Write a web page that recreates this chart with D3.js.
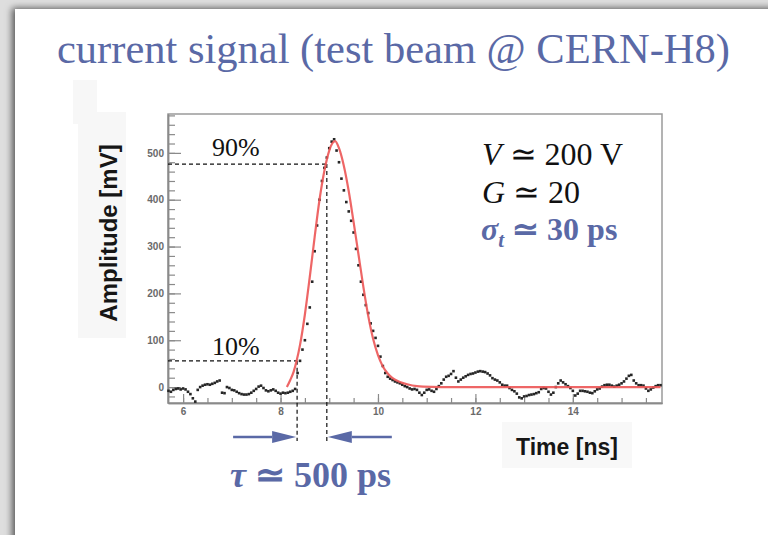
<!DOCTYPE html>
<html>
<head>
<meta charset="utf-8">
<script src="https://cdn.jsdelivr.net/npm/d3@7"></script>
<style>
  html, body { margin: 0; padding: 0; background: #fff; }
  svg { display: block; }
</style>
</head>
<body>
<div id="chart"></div>
<script>
// Oscilloscope samples (mV), one every 0.05 ns starting at 5.70 ns
const sampleStart = 5.70;
const sampleStep = 0.05;
const amplitude = [
  -8, -10, -6, -4, -3, -5, -3, -5, -10, -15,      // 5.70
  -24, -31, -6, 0, 3, 5, 6, 5, 7, 9,              // 6.20
  12, 14, -12, -13, 0, -2, -6, -7, -10, -13,      // 6.70
  -15, -16, -16, -15, -12, -8, -4, 1, 3, -2,      // 7.20
  -7, -9, -7, -5, -8, -12, -14, -12, -13, -12,    // 7.70
  -10, -8, -4, 30, 56, 80, 100, 135, 170, 225,    // 8.20
  290, 345, 400, 440, 468, 490, 510, 524, 529, 505, // 8.70
  480, 445, 420, 395, 375, 355, 330, 295, 260, 225, // 9.20
  197, 175, 158, 136, 120, 105, 88, 65, 45, 30,   // 9.70
  22, 18, 15, 12, 10, 8, 5, 2, 0, -3,             // 10.20
  -5, -4, -6, -12, -17, -12, -6, -5, -8, -10,     // 10.70
  -4, 2, 8, 16, 22, 24, 28, 34, 20, 12,           // 11.20
  16, 20, 23, 26, 28, 29, 31, 33, 34, 33,         // 11.70
  32, 29, 25, 19, 16, 14, 10, 5, 3, 3,            // 12.20
  -2, -6, -9, -14, -22, -24, -20, -19, -17, -16,  // 12.70
  -15, -13, -11, -4, -2, -3, -10, -16, -12, 0,    // 13.20
  8, 14, 10, 6, 2, -2, -8, -18, -14, -8,          // 13.70
  -8, -9, -10, -12, -13, -9, -5, -3, 1, 4,        // 14.20
  5, 5, 3, 1, 3, 5, 8, 12, 18, 24,                // 14.70
  26, 14, 8, 4, 4, 3, -3, -8, -5, -1,             // 15.20
  2, 4, 4                                         // 15.70
];

// Fit curve
const fitTime = [8.13, 8.20, 8.27, 8.33, 8.40, 8.50, 8.60, 8.70, 8.80, 8.90, 9.00, 9.06, 9.12,
  9.20, 9.30, 9.40, 9.50, 9.60, 9.70, 9.80, 9.90, 10.00, 10.10, 10.20, 10.30, 10.45, 10.60,
  10.80, 11.10, 11.50, 15.80];
const fitAmp = [0, 15, 33, 56, 90, 155, 235, 320, 400, 462, 505, 520, 525,
  510, 472, 418, 352, 283, 214, 152, 103, 68, 44, 29, 19, 11, 6,
  2, 0.5, 0, 0];

// Rise-time markers
const level10 = 56;
const level90 = 476;
const time10 = 8.34;
const time90 = 8.95;

const xMajorTicks = [6, 8, 10, 12, 14];
const yMajorTicks = [0, 100, 200, 300, 400, 500];

const width = 768, height = 535;
const blue = "#5a69a6";
const serif = "'Liberation Serif', 'Times New Roman', serif";
const sans = "'Liberation Sans', Arial, sans-serif";

const frame = { left: 168, right: 662, top: 114, bottom: 403 };

const x = d3.scaleLinear().domain([5.69, 15.83]).range([frame.left, frame.right]);
const y = d3.scaleLinear().domain([-34, 583]).range([frame.bottom, frame.top]);

const svg = d3.select("#chart").append("svg")
    .attr("width", width)
    .attr("height", height)
    .attr("viewBox", [0, 0, width, height]);

// slide background with shadow
const defs = svg.append("defs");
const shadow = defs.append("filter").attr("id", "shadow")
    .attr("x", "-10%").attr("y", "-10%").attr("width", "120%").attr("height", "120%");
shadow.append("feDropShadow")
    .attr("dx", -3).attr("dy", -1).attr("stdDeviation", 3.5)
    .attr("flood-color", "#000").attr("flood-opacity", 0.6);

svg.append("rect").attr("width", width).attr("height", height).attr("fill", "#dedede");
svg.append("rect")
    .attr("x", 15).attr("y", 9)
    .attr("width", width).attr("height", height)
    .attr("fill", "#fff")
    .attr("filter", "url(#shadow)");

// faint boxes behind the pasted axis titles
svg.append("rect").attr("x", 73).attr("y", 80).attr("width", 24).attr("height", 44).attr("fill", "#f7f7f7");
svg.append("rect").attr("x", 78).attr("y", 112).attr("width", 48).attr("height", 226).attr("fill", "#f7f7f7");
svg.append("rect").attr("x", 502).attr("y", 422).attr("width", 130).attr("height", 46).attr("fill", "#f8f8f8");

// Title
svg.append("text")
    .attr("x", 57).attr("y", 63)
    .attr("font-family", serif)
    .attr("font-size", 42.5)
    .attr("fill", blue)
    .text("current signal (test beam @ CERN-H8)");

// Frame
svg.append("rect")
    .attr("x", frame.left).attr("y", frame.top)
    .attr("width", frame.right - frame.left)
    .attr("height", frame.bottom - frame.top)
    .attr("fill", "none")
    .attr("stroke", "#9a9a9a")
    .attr("stroke-width", 1.5);

// Axes (ticks drawn inside the frame, ROOT style)
const xAxis = svg.append("g")
    .attr("transform", `translate(0,${frame.bottom})`)
    .call(d3.axisBottom(x).tickValues(xMajorTicks).tickSizeInner(-9).tickSizeOuter(0).tickPadding(5));
const xMinor = svg.append("g")
    .attr("transform", `translate(0,${frame.bottom})`)
    .call(d3.axisBottom(x).tickValues(d3.range(6, 15.8, 0.5)).tickSizeInner(-5).tickSizeOuter(0).tickFormat(""));

const yAxis = svg.append("g")
    .attr("transform", `translate(${frame.left},0)`)
    .call(d3.axisLeft(y).tickValues(yMajorTicks).tickSizeInner(-13).tickSizeOuter(0).tickPadding(4));
const yMinor = svg.append("g")
    .attr("transform", `translate(${frame.left},0)`)
    .call(d3.axisLeft(y).tickValues(d3.range(-20, 583, 20)).tickSizeInner(-7).tickSizeOuter(0).tickFormat(""));

[xAxis, xMinor, yAxis, yMinor].forEach(g => {
    g.select(".domain").attr("stroke", "#8a8a8a").attr("stroke-width", 1.5);
    g.selectAll(".tick line").attr("stroke", "#8a8a8a").attr("stroke-width", 1.2);
    g.selectAll(".tick text")
        .attr("font-family", sans)
        .attr("font-size", 10)
        .attr("font-weight", "bold")
        .attr("fill", "#6a6a6a");
});

// Axis titles
svg.append("text")
    .attr("transform", "translate(117,233) rotate(-90)")
    .attr("text-anchor", "middle")
    .attr("font-family", sans)
    .attr("font-size", 24)
    .attr("font-weight", "bold")
    .attr("fill", "#161616")
    .text("Amplitude [mV]");

svg.append("text")
    .attr("x", 567).attr("y", 455)
    .attr("text-anchor", "middle")
    .attr("font-family", sans)
    .attr("font-size", 23)
    .attr("font-weight", "bold")
    .attr("fill", "#161616")
    .text("Time [ns]");

// Dashed 10% / 90% guides
const dash = svg.append("g")
    .attr("stroke", "#111")
    .attr("stroke-width", 1.2)
    .attr("stroke-dasharray", "4,3")
    .attr("fill", "none");
dash.append("line")
    .attr("x1", frame.left).attr("x2", x(time90))
    .attr("y1", y(level90)).attr("y2", y(level90));
dash.append("line")
    .attr("x1", frame.left).attr("x2", x(time10))
    .attr("y1", y(level10)).attr("y2", y(level10));
dash.append("line")
    .attr("x1", x(time10)).attr("x2", x(time10))
    .attr("y1", y(level10)).attr("y2", 441);
dash.append("line")
    .attr("x1", x(time90)).attr("x2", x(time90))
    .attr("y1", y(level90)).attr("y2", 441);

svg.append("text").attr("x", 212).attr("y", 156)
    .attr("font-family", serif).attr("font-size", 26).attr("fill", "#111").text("90%");
svg.append("text").attr("x", 212).attr("y", 355)
    .attr("font-family", serif).attr("font-size", 26).attr("fill", "#111").text("10%");

// Data points
svg.append("g")
    .selectAll("rect")
    .data(amplitude)
    .join("rect")
    .attr("x", (d, i) => x(sampleStart + i * sampleStep) - 1.3)
    .attr("y", d => y(d) - 1.3)
    .attr("width", 2.6)
    .attr("height", 2.6)
    .attr("fill", "#262626");

// Fit curve
const fitLine = d3.line()
    .x((d, i) => x(fitTime[i]))
    .y(d => y(d))
    .curve(d3.curveMonotoneX);
svg.append("path")
    .datum(fitAmp)
    .attr("d", fitLine)
    .attr("fill", "none")
    .attr("stroke", "#ec5555")
    .attr("stroke-opacity", 0.9)
    .attr("stroke-width", 2.2);

// Parameter box
const info = svg.append("g").attr("font-family", serif).attr("font-size", 32);
const l1 = info.append("text").attr("x", 482).attr("y", 165).attr("fill", "#111");
l1.append("tspan").attr("font-style", "italic").text("V");
l1.append("tspan").text(" \u2243 200 V");
const l2 = info.append("text").attr("x", 482).attr("y", 203).attr("fill", "#111");
l2.append("tspan").attr("font-style", "italic").text("G");
l2.append("tspan").text(" \u2243 20");
const l3 = info.append("text").attr("x", 481).attr("y", 240)
    .attr("fill", blue).attr("font-weight", "bold");
l3.append("tspan").attr("font-style", "italic").text("\u03c3");
l3.append("tspan").attr("font-style", "italic").attr("font-size", 21).attr("dy", 7).text("t");
l3.append("tspan").attr("dy", -7).text(" \u2243 30 ps");

// Rise-time arrows
const arrowY = 437;
const arrows = svg.append("g").attr("fill", blue).attr("stroke", blue);
function arrow(xTail, xHead) {
    const dir = Math.sign(xHead - xTail);
    const headLen = 24;
    arrows.append("line")
        .attr("x1", xTail).attr("x2", xHead - dir * headLen)
        .attr("y1", arrowY).attr("y2", arrowY)
        .attr("stroke-width", 2.5);
    arrows.append("path")
        .attr("stroke", "none")
        .attr("d", `M${xHead},${arrowY} L${xHead - dir * headLen},${arrowY - 6} L${xHead - dir * headLen},${arrowY + 6} Z`);
}
arrow(x(time10) - 64, x(time10) - 1);
arrow(x(time90) + 65, x(time90) + 1);

svg.append("text")
    .attr("x", 230).attr("y", 487)
    .attr("font-family", serif)
    .attr("font-size", 36)
    .attr("font-weight", "bold")
    .attr("fill", blue)
    .html("<tspan font-style='italic'>\u03c4</tspan> \u2243 500 ps");
</script>
</body>
</html>
